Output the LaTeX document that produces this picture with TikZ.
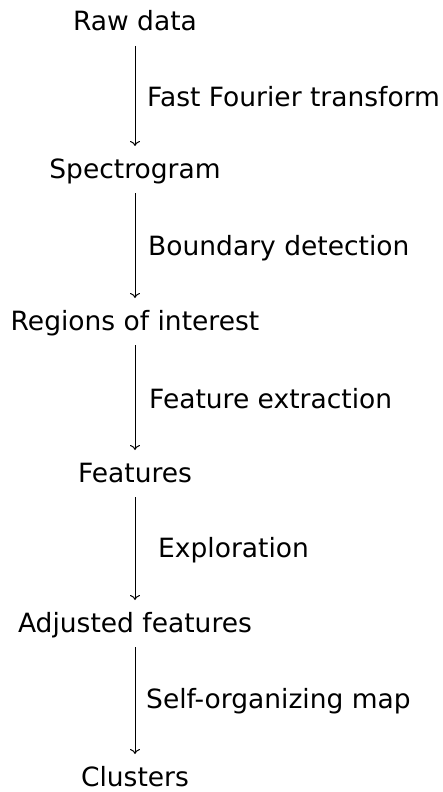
\documentclass[tikz,border=0pt]{standalone}
\usepackage{fontspec}
\setmainfont{DejaVu Sans}
\usetikzlibrary{arrows.meta}

\begin{document}
\begin{tikzpicture}[x=1pt,y=-1pt,
  stage/.style={anchor=base,inner sep=0pt,outer ysep=10pt,
    text height=22pt,text depth=5pt,font=\fontsize{26.5}{31}\selectfont},
  how/.style={anchor=base west,inner sep=0pt,font=\fontsize{26.5}{31}\selectfont},
  flow/.style={line width=1pt,-{To[length=5pt,width=10pt]}}]

\useasboundingbox (0,0) rectangle (443,792);

% processing stages
\node[stage] (raw)  at (135,31)  {Raw data};
\node[stage] (spec) at (135,178) {Spectrogram};
\node[stage] (roi)  at (135,330) {Regions of interest};
\node[stage] (feat) at (135,482) {Features};
\node[stage] (adj)  at (135,632) {Adjusted features};
\node[stage] (clus) at (135,786) {Clusters};

% steps between them
\draw[flow] (raw)  -- (spec);
\draw[flow] (spec) -- (roi);
\draw[flow] (roi)  -- (feat);
\draw[flow] (feat) -- (adj);
\draw[flow] (adj)  -- (clus);

\node[how] (fft)  at (147,106) {Fast Fourier transform};
\node[how] (bd)   at (148,255) {Boundary detection};
\node[how] (fe)   at (149,408) {Feature extraction};
\node[how] (expl) at (158,557) {Exploration};
\node[how] (som)  at (146,708) {Self-organizing map};

\end{tikzpicture}
\end{document}
